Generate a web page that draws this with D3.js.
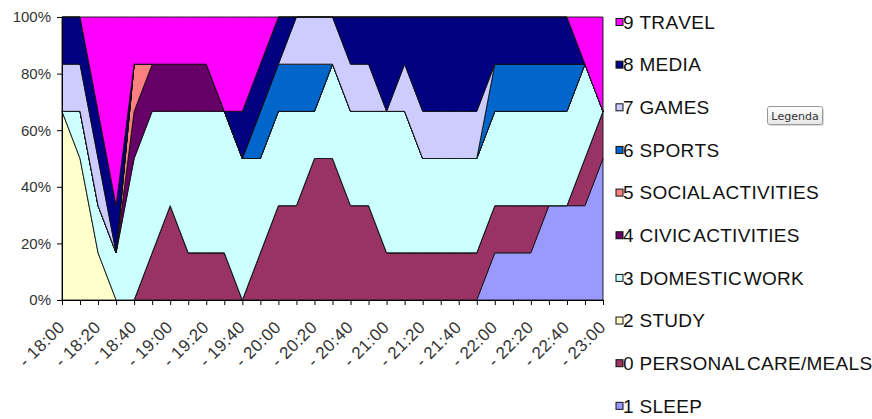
<!DOCTYPE html>
<html>
<head>
<meta charset="utf-8">
<script src="https://cdn.jsdelivr.net/npm/d3@7"></script>
<style>
  html, body { margin: 0; padding: 0; background: #fff; }
  svg { display: block; font-family: "Liberation Sans", Arial, sans-serif; font-kerning: none; }
</style>
</head>
<body>
<svg id="chart" width="872" height="419"></svg>
<script>
// Time slots, every ten minutes from 18:00 to 23:00
const times = [
  "18:00","18:10","18:20","18:30","18:40","18:50",
  "19:00","19:10","19:20","19:30","19:40","19:50",
  "20:00","20:10","20:20","20:30","20:40","20:50",
  "21:00","21:10","21:20","21:30","21:40","21:50",
  "22:00","22:10","22:20","22:30","22:40","22:50",
  "23:00"
];

// Number of people (out of six) doing each activity in each slot
const sleep        = [0,0,0,0,0,0,0,0,0,0, 0,0,0,0,0,0,0,0,0,0, 0,0,0,0,1,1,1,2,2,2, 3];
const personalCare = [0,0,0,0,0,1,2,1,1,1, 0,1,2,2,3,3,2,2,1,1, 1,1,1,1,1,1,1,0,0,1, 1];
const study        = [4,3,1,0,0,0,0,0,0,0, 0,0,0,0,0,0,0,0,0,0, 0,0,0,0,0,0,0,0,0,0, 0];
const domesticWork = [0,1,1,1,3,3,2,3,3,3, 3,2,2,2,1,2,2,2,3,3, 2,2,2,2,2,2,2,2,2,2, 0];
const civic        = [0,0,0,0,1,1,1,1,1,0, 0,0,0,0,0,0,0,0,0,0, 0,0,0,0,0,0,0,0,0,0, 0];
const social       = [0,0,0,0,1,0,0,0,0,0, 0,0,0,0,0,0,0,0,0,0, 0,0,0,0,0,0,0,0,0,0, 0];
const sports       = [0,0,0,0,0,0,0,0,0,0, 0,1,1,1,1,0,0,0,0,0, 0,0,0,0,1,1,1,1,1,0, 0];
const games        = [1,1,1,0,0,0,0,0,0,0, 0,0,0,1,1,1,1,1,0,1, 1,1,1,1,0,0,0,0,0,0, 0];
const media        = [1,1,1,1,0,0,0,0,0,0, 1,1,1,0,0,0,1,1,2,1, 2,2,2,2,1,1,1,1,1,0, 0];
const travel       = [0,0,2,4,1,1,1,1,1,2, 2,1,0,0,0,0,0,0,0,0, 0,0,0,0,0,0,0,0,0,1, 2];

// Series, bottom of the stack first
const seriesKeys   = ["sleep","personalCare","study","domesticWork","civic","social","sports","games","media","travel"];
const seriesNames  = ["1 SLEEP","0 PERSONAL CARE/MEALS","2 STUDY","3 DOMESTIC WORK","4 CIVIC ACTIVITIES",
                      "5 SOCIAL ACTIVITIES","6 SPORTS","7 GAMES","8 MEDIA","9 TRAVEL"];
const seriesColors = ["#9999FF","#993366","#FFFFCC","#CCFFFF","#660066",
                      "#FF8080","#0066CC","#CCCCFF","#000080","#FF00FF"];
const seriesValues = [sleep, personalCare, study, domesticWork, civic, social, sports, games, media, travel];

// Axis labels
const xTickLabels = ["- 18:00","- 18:20","- 18:40","- 19:00","- 19:20","- 19:40","- 20:00","- 20:20",
                     "- 20:40","- 21:00","- 21:20","- 21:40","- 22:00","- 22:20","- 22:40","- 23:00"];
const yTickValues = [0, 0.2, 0.4, 0.6, 0.8, 1];
const yTickLabels = ["0%","20%","40%","60%","80%","100%"];

// Rows for the stack layout
const rows = times.map((t, i) => {
  const row = { time: t };
  seriesKeys.forEach((k, j) => { row[k] = seriesValues[j][i]; });
  return row;
});

const svg = d3.select("#chart");
const plot = { left: 62, right: 603, top: 17, bottom: 300 };

const x = d3.scalePoint().domain(times).range([plot.left, plot.right]);
const y = d3.scaleLinear().domain([0, 1]).range([plot.bottom, plot.top]);

const stacked = d3.stack().keys(seriesKeys).offset(d3.stackOffsetExpand)(rows);

const area = d3.area()
  .x(d => x(d.data.time))
  .y0(d => y(d[0]))
  .y1(d => y(d[1]));

svg.append("g")
  .selectAll("path")
  .data(stacked)
  .join("path")
  .attr("d", area)
  .attr("fill", (d, i) => seriesColors[i])
  .attr("stroke", "#111")
  .attr("stroke-width", 0.9)
  .attr("stroke-linejoin", "round");

// Y axis
const yAxis = svg.append("g")
  .attr("transform", `translate(${plot.left},0)`)
  .call(d3.axisLeft(y)
    .tickValues(yTickValues)
    .tickFormat((d, i) => yTickLabels[i])
    .tickSize(5)
    .tickSizeOuter(0)
    .tickPadding(6));
yAxis.select(".domain").attr("stroke", "#000");
yAxis.selectAll(".tick line").attr("stroke", "#000");
yAxis.selectAll("text")
  .attr("font-size", 15)
  .attr("font-family", "Liberation Sans, Arial, sans-serif")
  .attr("fill", "#333");

// X axis: a tick at every slot, a label every twenty minutes
const labelByTime = new Map(xTickLabels.map(l => [l.replace("- ", ""), l]));
const xAxis = svg.append("g")
  .attr("transform", `translate(0,${plot.bottom})`)
  .call(d3.axisBottom(x)
    .tickSize(5)
    .tickSizeOuter(0)
    .tickFormat(t => labelByTime.get(t) || ""));
xAxis.select(".domain").attr("stroke", "#000");
xAxis.selectAll(".tick line").attr("stroke", "#000");
xAxis.selectAll("text")
  .attr("font-size", 17)
  .attr("letter-spacing", 0.5)
  .attr("font-family", "Liberation Sans, Arial, sans-serif")
  .attr("fill", "#333")
  .attr("text-anchor", "end")
  .attr("x", 0)
  .attr("y", 0)
  .attr("dy", "0.35em")
  .attr("transform", "translate(-1,24) rotate(-45)");

// Legend, top of the stack first
const legendOrder = d3.range(seriesKeys.length).reverse();
const legend = svg.append("g")
  .selectAll("g")
  .data(legendOrder)
  .join("g")
  .attr("transform", (d, i) => `translate(616,${22 + i * 42.65})`);
legend.append("rect")
  .attr("x", 0).attr("y", -3.5)
  .attr("width", 7).attr("height", 7)
  .attr("fill", d => seriesColors[d])
  .attr("stroke", "#111")
  .attr("stroke-width", 1);
const legendText = legend.append("text")
  .attr("x", 7)
  .attr("y", 0)
  .attr("dy", "0.36em")
  .attr("font-size", 19)
  .attr("letter-spacing", 0.3)
  .attr("fill", "#111");
// number and name; the words of the name sit closer together
legendText.append("tspan")
  .text(d => seriesNames[d].slice(0, seriesNames[d].indexOf(" ") + 1));
legendText.append("tspan")
  .attr("word-spacing", -4)
  .text(d => seriesNames[d].slice(seriesNames[d].indexOf(" ") + 1));

// Tooltip box over the legend
const tip = svg.append("g").attr("transform", "translate(767,106)");
const grad = svg.append("defs").append("linearGradient")
  .attr("id", "tipFill").attr("x1", 0).attr("y1", 0).attr("x2", 0).attr("y2", 1);
grad.append("stop").attr("offset", "0%").attr("stop-color", "#ffffff");
grad.append("stop").attr("offset", "100%").attr("stop-color", "#e6e6e6");
tip.append("rect")
  .attr("x", 2).attr("y", 2).attr("width", 55).attr("height", 18)
  .attr("rx", 2).attr("fill", "#000").attr("opacity", 0.15);
tip.append("rect")
  .attr("x", 0.5).attr("y", 0.5).attr("width", 55).attr("height", 18)
  .attr("rx", 2).attr("fill", "url(#tipFill)").attr("stroke", "#9a9a9a");
tip.append("text")
  .attr("x", 28).attr("y", 10)
  .attr("dy", "0.35em")
  .attr("text-anchor", "middle")
  .attr("font-family", "DejaVu Sans, sans-serif")
  .attr("font-size", 11)
  .attr("fill", "#333")
  .text("Legenda");
</script>
</body>
</html>
